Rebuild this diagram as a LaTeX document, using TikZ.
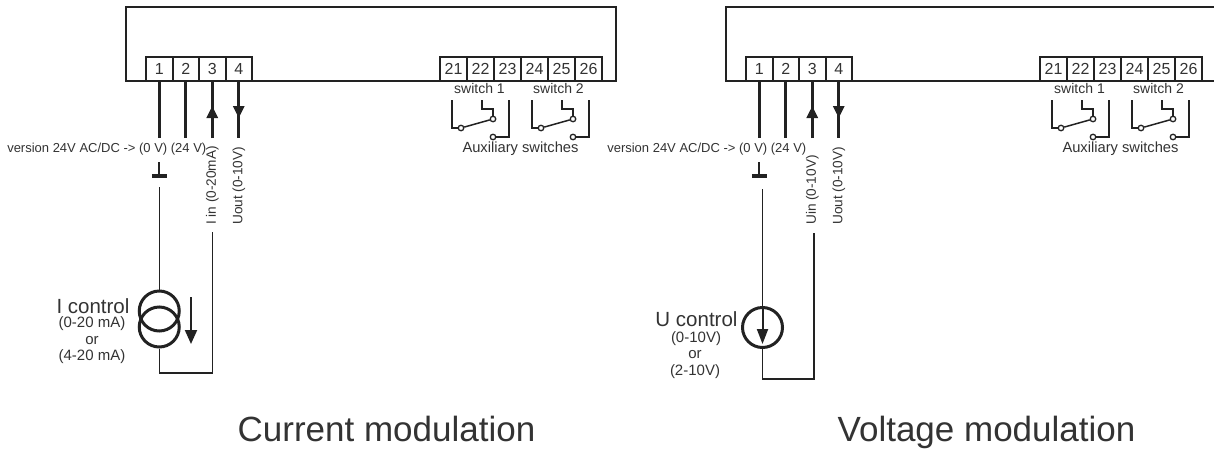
\documentclass[tikz,border=0pt]{standalone}
\usepackage{fontspec}
\setmainfont{Liberation Sans}
\usetikzlibrary{arrows.meta,calc}
\definecolor{ink}{HTML}{222222}
\definecolor{txt}{HTML}{333333}
\newcommand\fsz[1]{\fontsize{#1}{#1}\selectfont}
\newcommand\commonhalf[3]{%
  % housing
  \draw[box] (126,7) rectangle (#1,81);
  % terminals 1-4
  \foreach \i/\x in {1/159.25,2/185.75,3/212.25,4/238.75}{
    \node[term] (t\i) at (\x,69) {\i};
  }
  % terminals 21-26
  \foreach \i [count=\k from 0] in {21,22,23,24,25,26}{
    \node[sterm] (t\i) at (453.5+27*\k,69) {\i};
  }
  % wires from terminals 1-4
  \coordinate (w1) at (159.25,138);
  \coordinate (w2) at (185.75,138);
  \coordinate (w3) at (212.25,138);
  \coordinate (a3) at (212.25,106);
  \coordinate (w4) at (238.75,138);
  \coordinate (a4) at (238.75,118);
  \draw[thick wire] (t1.south) -- (w1);
  \draw[thick wire] (t2.south) -- (w2);
  \draw[thick wire] (t3.south) -- (w3);
  \draw[thick wire,-{Triangle[length=12pt,width=11pt]}] (w3) -- (a3);
  \draw[thick wire] (t4.south) -- (w4);
  \draw[thick wire,-{Triangle[length=12pt,width=11pt]}] (t4.south) -- (a4);
  % labels
  \node[lbl,font=\fsz{13},anchor=base east] (ver) at (206.5,152) {version 24V AC/DC -> (0 V) (24 V)};
  \node[lbl,font=\fsz{13.6},rotate=90,anchor=west] (inlab) at (212.25,225) {#3};
  \node[lbl,font=\fsz{13.6},rotate=90,anchor=west] (outlab) at (238.75,225) {Uout (0-10V)};
  % ground
  \coordinate (g1) at (159.25,162);
  \coordinate (g2) at (159.25,176);
  \draw[ink,line width=2pt] (g1) -- (g2);
  \draw[ink,line width=4pt] ($(g2)+(-7.5,0)$) -- ($(g2)+(7.5,0)$);
  % auxiliary switches
  \node[lbl,font=\fsz{14},anchor=base] (sw1) at (479.5,93.5) {switch 1};
  \node[lbl,font=\fsz{14},anchor=base] (sw2) at (558.5,93.5) {switch 2};
  \foreach \o/\n in {0/a,80/b}{
    \coordinate (sA\n) at (452+\o,100);
    \coordinate (sB\n) at (482+\o,100);
    \coordinate (sC\n) at (509+\o,100);
    \node[contact] (cA\n) at (461+\o,128) {};
    \node[contact] (cB\n) at (493+\o,119) {};
    \node[contact] (cC\n) at (493+\o,137) {};
    \draw[thin wire] (sA\n) |- (cA\n);
    \draw[thin wire] (sB\n) -- ++(0,9) -| (cB\n);
    \draw[thin wire] (sC\n) |- (cC\n);
    \draw[thin wire] (cA\n) -- (cB\n);
  }
  \node[lbl,font=\fsz{14.7},anchor=base] (aux) at (520.5,152) {Auxiliary switches};
  % title
  \node[lbl,font=\fsz{35},anchor=base] (title) at (386.5,441) {#2};
}
\begin{document}
\begin{tikzpicture}[x=1pt,y=-1pt,
  box/.style={draw=ink,line width=2pt},
  term/.style={draw=ink,line width=2pt,fill=white,minimum width=26.5pt,minimum height=24pt,inner sep=0pt,font=\fsz{16},text=txt},
  sterm/.style={term,minimum width=27pt},
  thick wire/.style={draw=ink,line width=3pt},
  thin wire/.style={draw=ink,line width=1.5pt},
  lbl/.style={text=txt,inner sep=0pt},
  contact/.style={circle,draw=ink,line width=1.3pt,fill=white,minimum size=5.5pt,inner sep=0pt},
  source/.style={circle,draw=ink,line width=3pt,minimum size=40pt,inner sep=0pt},
]
\useasboundingbox (0,0) rectangle (1214,450);
\fill[white] (0,0) rectangle (1214,450);

% ---------------- left: current modulation
\begin{scope}[name prefix=L-]
  \commonhalf{616}{Current modulation}{I in (0-20mA)}
  \coordinate (gw) at (159.25,187);
  \node[source] (srcA) at (159.25,311) {};
  \node[source] (srcB) at (159.25,327) {};
  \coordinate (lb1) at (159.25,373);
  \coordinate (lb3) at (212.25,373);
  \coordinate (in3) at (212.25,232);
  \draw[thin wire] (gw) -- (srcA.north);
  \draw[thin wire] (srcB.south) -- (lb1) -- (lb3) -- (in3);
  \coordinate (ar1) at (191,297);
  \coordinate (ar2) at (191,344);
  \draw[ink,line width=2pt,-{Triangle[length=14pt,width=12pt]}] (ar1) -- (ar2);
  \node[lbl,font=\fsz{20.5},anchor=base] (ctl) at (93,313) {I control};
  \node[lbl,font=\fsz{15},anchor=base] (r1) at (92,327.5) {(0-20 mA)};
  \node[lbl,font=\fsz{15},anchor=base] (r2) at (92,344) {or};
  \node[lbl,font=\fsz{15},anchor=base] (r3) at (92,360) {(4-20 mA)};
\end{scope}

% ---------------- right: voltage modulation
\begin{scope}[xshift=600,name prefix=R-]
  \commonhalf{640}{Voltage modulation}{Uin (0-10V)}
  \coordinate (gw) at (162.5,189);
  \node[source] (src) at (162.5,327.5) {};
  \coordinate (lb1) at (162.5,379);
  \coordinate (lb3) at (214,379);
  \coordinate (in3) at (214,233);
  \draw[thin wire] (gw) -- (src.north);
  \draw[thin wire] (src.south) -- (lb1) -- (lb3) -- (in3);
  \coordinate (ar1) at (162.5,308);
  \coordinate (ar2) at (162.5,344);
  \draw[ink,line width=2pt,-{Triangle[length=15pt,width=11pt]}] (ar1) -- (ar2);
  \node[lbl,font=\fsz{20.5},anchor=base] (ctl) at (96.5,326) {U control};
  \node[lbl,font=\fsz{15},anchor=base] (r1) at (96,342) {(0-10V)};
  \node[lbl,font=\fsz{15},anchor=base] (r2) at (95,358.5) {or};
  \node[lbl,font=\fsz{15},anchor=base] (r3) at (95,375) {(2-10V)};
\end{scope}
\end{tikzpicture}
\end{document}
